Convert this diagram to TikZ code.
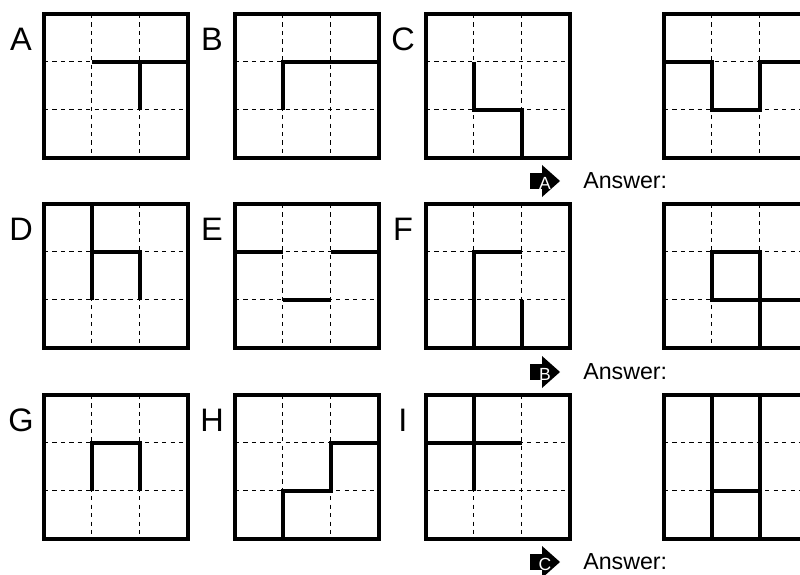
\documentclass[tikz,border=0pt]{standalone}
\usepackage{fontspec}
\setmainfont{Liberation Sans}

\begin{document}
\begin{tikzpicture}[x=0.02cm, y=-0.02cm,
    frame/.style={line width=2.2pt},
    guide/.style={line width=0.6pt, dash pattern=on 2.4pt off 2.4pt},
    wall/.style={line width=2.2pt},
    tag/.style={inner sep=0pt, font=\fontsize{18.5}{18.5}\selectfont},
    badge/.style={inner sep=0pt, text=white, font=\fontsize{10}{10}\selectfont},
    answer/.style={inner sep=0pt, anchor=west, font=\fontsize{13.2}{13.2}\selectfont}]
  \useasboundingbox (0,0) rectangle (800,574);
  \clip (0,0) rectangle (800,574);
  \foreach \gx/\gy/\lab/\walls in {
      44/14/A/{(1,1) -- (3,1) (2,1) -- (2,2)},
      235/14/B/{(1,2) -- (1,1) -- (3,1)},
      426/14/C/{(1,1) -- (1,2) -- (2,2) -- (2,3)},
      44/204/D/{(1,0) -- (1,2) (1,1) -- (2,1) -- (2,2)},
      235/204/E/{(0,1) -- (1,1) (2,1) -- (3,1) (1,2) -- (2,2)},
      426/204/F/{(1,3) -- (1,1) -- (2,1) (2,2) -- (2,3)},
      44/395/G/{(1,2) -- (1,1) -- (2,1) -- (2,2)},
      235/395/H/{(1,3) -- (1,2) -- (2,2) -- (2,1) -- (3,1)},
      426/395/I/{(1,0) -- (1,2) (0,1) -- (2,1)}}{
    \node[tag] (tag\lab) at (\gx-23, \gy+25) {\lab};
    \begin{scope}[shift={(\gx,\gy)}, x=0.958cm, y=-0.958cm]
      \draw[guide] (1,0) -- (1,3) (2,0) -- (2,3) (0,1) -- (3,1) (0,2) -- (3,2);
      \draw[wall] \walls;
      \draw[frame] (0,0) rectangle (3,3);
    \end{scope}
  }
  \foreach \gy/\walls in {
      14/{(0,1) -- (1,1) -- (1,2) -- (2,2) -- (2,1) -- (3,1)},
      204/{(1,1) -- (2,1) -- (2,2) -- (1,2) -- cycle (2,2) -- (3,2) (2,2) -- (2,3)},
      395/{(1,0) -- (1,3) (2,0) -- (2,3) (1,2) -- (2,2)}}{
    \begin{scope}[shift={(664,\gy)}, x=0.958cm, y=-0.958cm]
      \draw[guide] (1,0) -- (1,3) (2,0) -- (2,3) (0,1) -- (3,1) (0,2) -- (3,2);
      \draw[wall] \walls;
      \draw[frame] (0,0) rectangle (3,3);
    \end{scope}
  }
  \foreach \row/\gy in {A/181, B/372, C/562}{
    \fill (530,\gy-8) rectangle (543,\gy+8);
    \fill (542,\gy-16) -- (560,\gy) -- (542,\gy+16) -- cycle;
    \node[badge] (badge\row) at (545,\gy+2) {\row};
    \node[answer] (answer\row) at (583,\gy) {Answer:};
  }
\end{tikzpicture}
\end{document}
